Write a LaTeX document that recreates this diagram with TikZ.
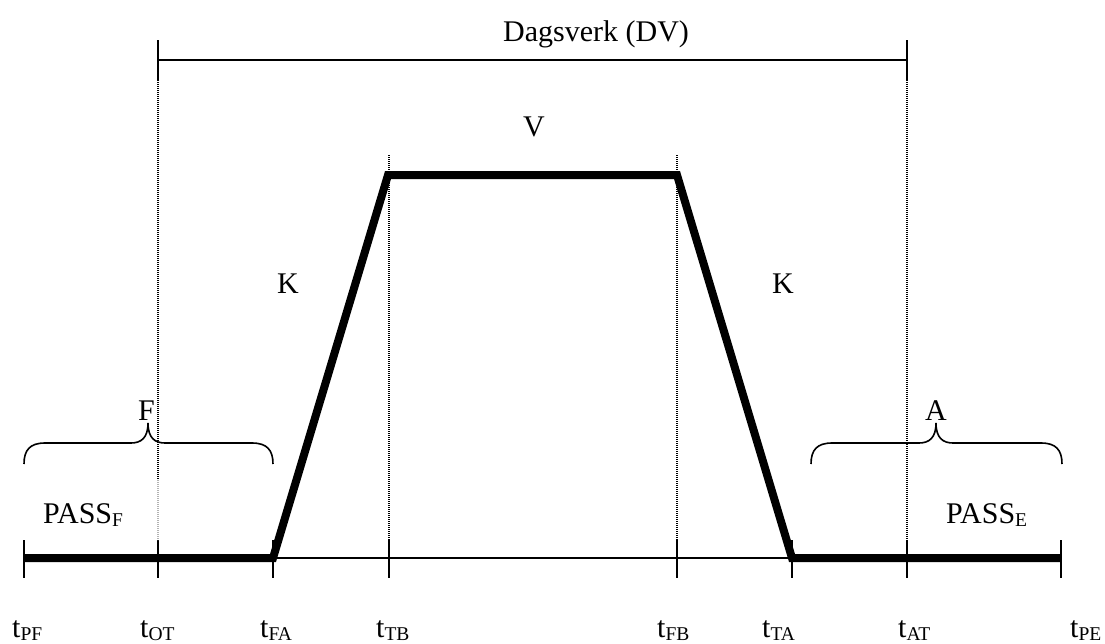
\documentclass[tikz,border=0pt]{standalone}
\usepackage{fontspec}
\setmainfont{Liberation Serif}
\newcommand\lsub[1]{\raisebox{-3pt}{\fontsize{19.5}{20}\selectfont #1}}
\begin{document}
\begin{tikzpicture}[x=1pt,y=-1pt,
  lbl/.style={anchor=base west,inner sep=0pt,font=\fontsize{30}{36}\selectfont},
  hline/.style={line width=1.3pt},
  tickmark/.style={line width=1.6pt},
  dotline/.style={line width=1.2pt,dash pattern=on 1.2pt off 0.8pt},
  heavy/.style={line width=8pt,line join=miter},
  brc/.style={line width=1.6pt}]
\path[use as bounding box] (0,0) rectangle (1105,643);

% time points on the base line
\coordinate (PF) at (24,558);
\coordinate (OT) at (158,558);
\coordinate (FA) at (273,558);
\coordinate (TB) at (389,558);
\coordinate (FB) at (677,558);
\coordinate (TA) at (792,558);
\coordinate (AT) at (907,558);
\coordinate (PE) at (1061,558);
\coordinate (TBtop) at (388,175);
\coordinate (FBtop) at (677,175);

% thin base line
\draw[hline] (PF) -- (PE);

% ticks
\foreach \x in {24,158,273,389,677,792,907,1061}
  \draw[tickmark] (\x,540) -- (\x,578);

% dotted verticals
\draw[dotline] (158,40) -- (158,480);
\draw[dotline,gray!60] (158,480) -- (158,540);
\draw[dotline] (907,40) -- (907,558);
\draw[dotline] (389,155) -- (389,558);
\draw[dotline] (677,155) -- (677,558);

% Dagsverk dimension line
\coordinate (DVa) at (158,60);
\coordinate (DVb) at (907,60);
\draw[hline] (DVa) -- (DVb);
\draw[tickmark] (158,40) -- (158,80);
\draw[tickmark] (907,40) -- (907,80);

% thick profile
\draw[heavy] (PF) -- (FA) -- (TBtop) -- (FBtop) -- (TA) -- (PE);

% braces
\draw[brc] (24,464) .. controls (24,450) and (30,443) .. (45,443) -- (131,443)
  .. controls (141,443) and (148,438) .. (148,423)
  .. controls (148,438) and (155,443) .. (165,443) -- (252,443)
  .. controls (267,443) and (273,450) .. (273,464);
\draw[brc] (811,464) .. controls (811,450) and (817,443) .. (832,443) -- (919,443)
  .. controls (929,443) and (936,438) .. (936,423)
  .. controls (936,438) and (943,443) .. (953,443) -- (1041,443)
  .. controls (1056,443) and (1062,450) .. (1062,464);

% labels
\node[lbl] (dv) at (503,41) {Dagsverk (DV)};
\node[lbl] (v) at (523,136) {V};
\node[lbl] (k1) at (277,293) {K};
\node[lbl] (k2) at (772,293) {K};
\node[lbl] (f) at (138,420) {F};
\node[lbl] (a) at (925,420) {A};
\node[lbl] (passf) at (43,523) {PASS\lsub{F}};
\node[lbl] (passe) at (946,523) {PASS\lsub{E}};

\node[lbl] (lPF) at (12,637) {t\lsub{PF}};
\node[lbl] (lOT) at (140,637) {t\lsub{OT}};
\node[lbl] (lFA) at (260,637) {t\lsub{FA}};
\node[lbl] (lTB) at (376,637) {t\lsub{TB}};
\node[lbl] (lFB) at (657,637) {t\lsub{FB}};
\node[lbl] (lTA) at (762,637) {t\lsub{TA}};
\node[lbl] (lAT) at (898,637) {t\lsub{AT}};
\node[lbl] (lPE) at (1070,637) {t\lsub{PE}};
\end{tikzpicture}
\end{document}
